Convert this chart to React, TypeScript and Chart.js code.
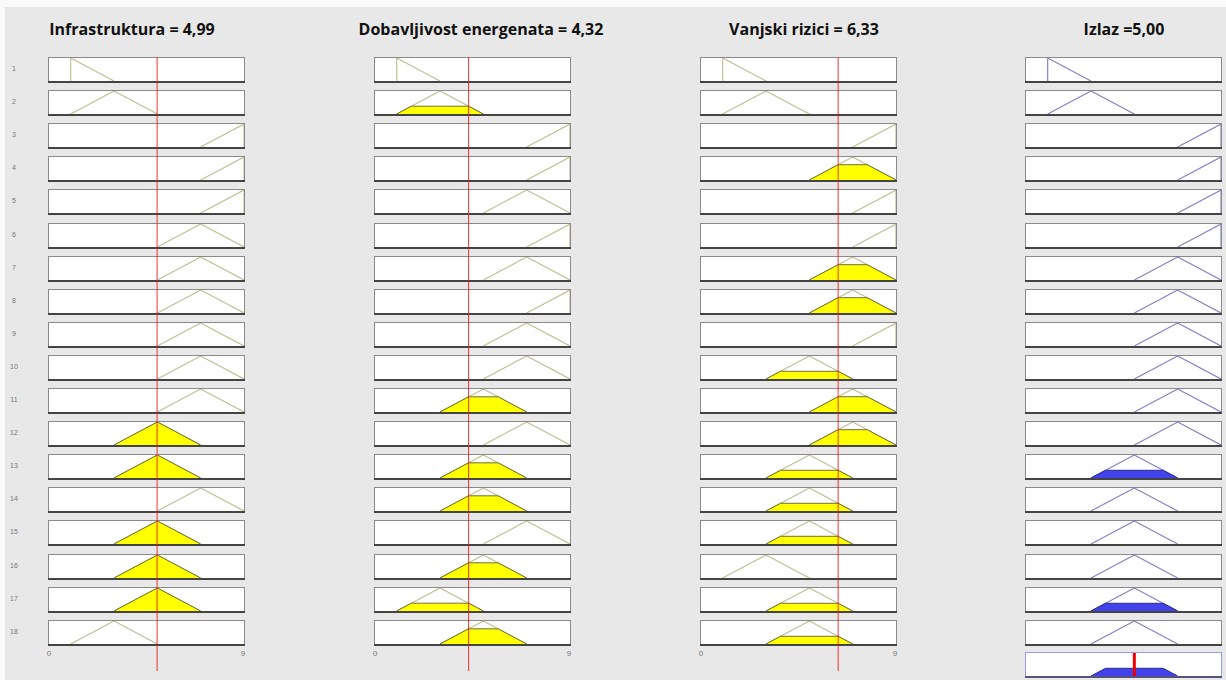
import React, { useEffect, useRef } from 'react';
import { Chart, registerables } from 'chart.js';
Chart.register(...registerables);

// ---------- data ----------
const titles = ['Infrastruktura = 4,99', 'Dobavljivost energenata = 4,32', 'Vanjski rizici = 6,33', 'Izlaz =5,00'];
const inputValues = [4.99, 4.32, 6.33];
const outputValue = 5.0;
const xTickLabels = ['0', '9'];
const xRange = [0, 9];

// membership functions (trimf params)
const mfA = [1, 1, 3];
const mfB = [1, 3, 5];
const mfC = [3, 5, 7];
const mfD = [5, 7, 9];
const mfE = [7, 9, 9];
const MF: Record<string, number[]> = { A: mfA, B: mfB, C: mfC, D: mfD, E: mfE };

// rule antecedents / consequents (MF per rule row)
const infraMF = ['A', 'B', 'E', 'E', 'E', 'D', 'D', 'D', 'D', 'D', 'D', 'C', 'C', 'D', 'C', 'C', 'C', 'B'];
const energMF = ['A', 'B', 'E', 'E', 'D', 'E', 'D', 'E', 'D', 'D', 'C', 'D', 'C', 'C', 'D', 'C', 'B', 'C'];
const rizMF = ['A', 'B', 'E', 'D', 'E', 'E', 'D', 'D', 'E', 'C', 'D', 'D', 'C', 'C', 'C', 'B', 'C', 'C'];
const outMF = ['A', 'B', 'E', 'E', 'E', 'E', 'D', 'D', 'D', 'D', 'D', 'D', 'C', 'C', 'C', 'C', 'C', 'C'];

// degrees of membership (filled heights)
const infraFire = [0, 0, 0, 0, 0, 0, 0, 0, 0, 0, 0, 1, 1, 0, 1, 1, 1, 0];
const energFire = [0, 0.34, 0, 0, 0, 0, 0, 0, 0, 0, 0.66, 0, 0.66, 0.66, 0, 0.66, 0.34, 0.66];
const rizFire = [0, 0, 0, 0.665, 0, 0, 0.665, 0.665, 0, 0.335, 0.665, 0.665, 0.335, 0.335, 0.335, 0, 0.335, 0.335];
const outFire = [0, 0, 0, 0, 0, 0, 0, 0, 0, 0, 0, 0, 0.335, 0, 0, 0, 0.335, 0];

// aggregated output
const aggMF = 'C';
const aggLevel = 0.335;

// ---------- layout / style ----------
const COL_LEFT = [48, 374, 700, 1025];
const TITLE_CENTER = [132, 481, 804, 1124];
const ROW_TOP0 = 57;
const ROW_STEP = 33.1;
const BOX_W = 197;
const BOX_H = 26;
const RED_BOTTOM = 671;

const IN_LINE = '#c0c098';
const IN_FILL = '#ffff00';
const IN_EDGE = '#6e6e3c';
const OUT_LINE = '#8585c4';
const OUT_FILL = '#4343ec';
const OUT_EDGE = '#2b2b8a';

function mfPoints(key: string) {
  const [a, b, c] = MF[key];
  return [{ x: a, y: 0 }, { x: b, y: 1 }, { x: c, y: 0 }];
}
function clipPoints(key: string, h: number) {
  const [a, b, c] = MF[key];
  return [
    { x: a, y: 0 },
    { x: a + (b - a) * h, y: h },
    { x: c - (c - b) * h, y: h },
    { x: c, y: 0 },
  ];
}

function boxPlugin(border: string, bottom: string) {
  return {
    id: 'boxFrame',
    beforeDatasetsDraw(chart: any) {
      const { ctx, chartArea } = chart;
      const { left, top, right, bottom: bt } = chartArea;
      ctx.save();
      ctx.fillStyle = '#ffffff';
      ctx.fillRect(left, top, right - left, bt - top);
      ctx.strokeStyle = border;
      ctx.lineWidth = 1;
      ctx.strokeRect(left - 0.5, top - 0.5, right - left + 1, bt - top + 1.5);
      ctx.strokeStyle = bottom;
      ctx.lineWidth = 2;
      ctx.beginPath();
      ctx.moveTo(left - 1, bt + 1);
      ctx.lineTo(right + 1, bt + 1);
      ctx.stroke();
      ctx.restore();
    },
  };
}

function baseOptions(padding: any) {
  return {
    animation: false,
    responsive: false,
    maintainAspectRatio: false,
    devicePixelRatio: 1,
    events: [],
    layout: { padding },
    plugins: { legend: { display: false }, tooltip: { enabled: false }, title: { display: false } },
    scales: {
      x: { type: 'linear', min: xRange[0], max: xRange[1], display: false },
      y: { type: 'linear', min: 0, max: 1, display: false },
    },
    elements: { point: { radius: 0 }, line: { tension: 0 } },
  };
}

function ChartCanvas({ left, top, width, height, config, z }: any) {
  const ref = useRef<HTMLCanvasElement>(null);
  useEffect(() => {
    if (!ref.current) return;
    const chart = new Chart(ref.current, config());
    return () => chart.destroy();
  }, []);
  return (
    <canvas
      ref={ref}
      width={width}
      height={height}
      style={{ position: 'absolute', left, top, width, height, zIndex: z || 1, pointerEvents: 'none' }}
    />
  );
}

function mfConfig(key: string, fire: number, isOut: boolean, agg = false, redX: number | null = null) {
  return () => {
    const datasets: any[] = [];
    if (fire > 0) {
      datasets.push({
        data: clipPoints(key, fire),
        borderColor: isOut ? OUT_EDGE : IN_EDGE,
        backgroundColor: isOut ? OUT_FILL : IN_FILL,
        borderWidth: 1,
        fill: 'origin',
        pointRadius: 0,
        order: 1,
      });
    }
    if (!agg) {
      datasets.push({
        data: mfPoints(key),
        borderColor: isOut ? OUT_LINE : IN_LINE,
        borderWidth: 1.2,
        fill: false,
        pointRadius: 0,
        order: 2,
      });
    }
    if (redX !== null) {
      datasets.unshift({
        data: [{ x: redX, y: 0 }, { x: redX, y: 1 }],
        borderColor: '#ee0000',
        borderWidth: 3,
        fill: false,
        pointRadius: 0,
        order: 0,
        clip: false,
      });
    }
    return {
      type: 'line',
      data: { datasets },
      options: baseOptions({ left: 1, right: 1, top: 1, bottom: 2 }),
      plugins: [agg ? boxPlugin('#9a9af5', '#55557a') : boxPlugin('#8a8a8a', '#444444')],
    };
  };
}

function redLineConfig(v: number) {
  return () => ({
    type: 'line',
    data: {
      datasets: [
        {
          data: [{ x: v, y: 0 }, { x: v, y: 1 }],
          borderColor: 'rgba(235,20,20,0.85)',
          borderWidth: 1,
          fill: false,
          pointRadius: 0,
          clip: false,
        },
      ],
    },
    options: baseOptions({ left: 1, right: 1, top: 0, bottom: 0 }),
  });
}

const rowTop = (i: number) => Math.round(ROW_TOP0 + i * ROW_STEP);

export default function App() {
  const cols = [
    { mf: infraMF, fire: infraFire, out: false },
    { mf: energMF, fire: energFire, out: false },
    { mf: rizMF, fire: rizFire, out: false },
    { mf: outMF, fire: outFire, out: true },
  ];
  const els: any[] = [];
  cols.forEach((c, ci) => {
    els.push(
      <div
        key={'t' + ci}
        style={{
          position: 'absolute',
          left: TITLE_CENTER[ci] - 200,
          width: 400,
          top: 18,
          textAlign: 'center',
          font: '700 16px "Open Sans", Lato, sans-serif',
          color: '#111',
          whiteSpace: 'nowrap',
        }}
      >
        {titles[ci]}
      </div>
    );
    c.mf.forEach((k, ri) => {
      els.push(
        <ChartCanvas
          key={`c${ci}-${ri}`}
          left={COL_LEFT[ci]}
          top={rowTop(ri)}
          width={BOX_W}
          height={BOX_H}
          config={mfConfig(k, c.fire[ri], c.out)}
        />
      );
    });
    if (!c.out) {
      els.push(
        <ChartCanvas
          key={'r' + ci}
          left={COL_LEFT[ci]}
          top={ROW_TOP0}
          width={BOX_W}
          height={RED_BOTTOM - ROW_TOP0}
          config={redLineConfig(inputValues[ci])}
          z={3}
        />
      );
      xTickLabels.forEach((t, ti) => {
        els.push(
          <div
            key={`x${ci}-${ti}`}
            style={{
              position: 'absolute',
              left: COL_LEFT[ci] + (ti === 0 ? 1 : BOX_W - 2) - 10,
              width: 20,
              top: 649,
              textAlign: 'center',
              font: '8px "Liberation Sans", Arial, sans-serif',
              color: '#777',
            }}
          >
            {t}
          </div>
        );
      });
    } else {
      els.push(
        <ChartCanvas
          key="agg"
          left={COL_LEFT[ci]}
          top={652}
          width={BOX_W}
          height={BOX_H}
          config={mfConfig(aggMF, aggLevel, true, true, outputValue)}
        />
      );
    }
  });
  infraMF.forEach((_, ri) => {
    els.push(
      <div
        key={'n' + ri}
        style={{
          position: 'absolute',
          left: 4,
          width: 20,
          top: rowTop(ri) + 8,
          textAlign: 'center',
          font: '7px "Liberation Sans", Arial, sans-serif',
          color: '#777',
        }}
      >
        {String(ri + 1)}
      </div>
    );
  });
  return (
    <div style={{ position: 'absolute', left: 0, top: 0, width: 1226, height: 680, background: '#fafafa', overflow: 'hidden' }}>
      <div style={{ position: 'absolute', left: 5, top: 7, right: 0, bottom: 0, background: '#e8e8e8' }} />
      {els}
    </div>
  );
}
